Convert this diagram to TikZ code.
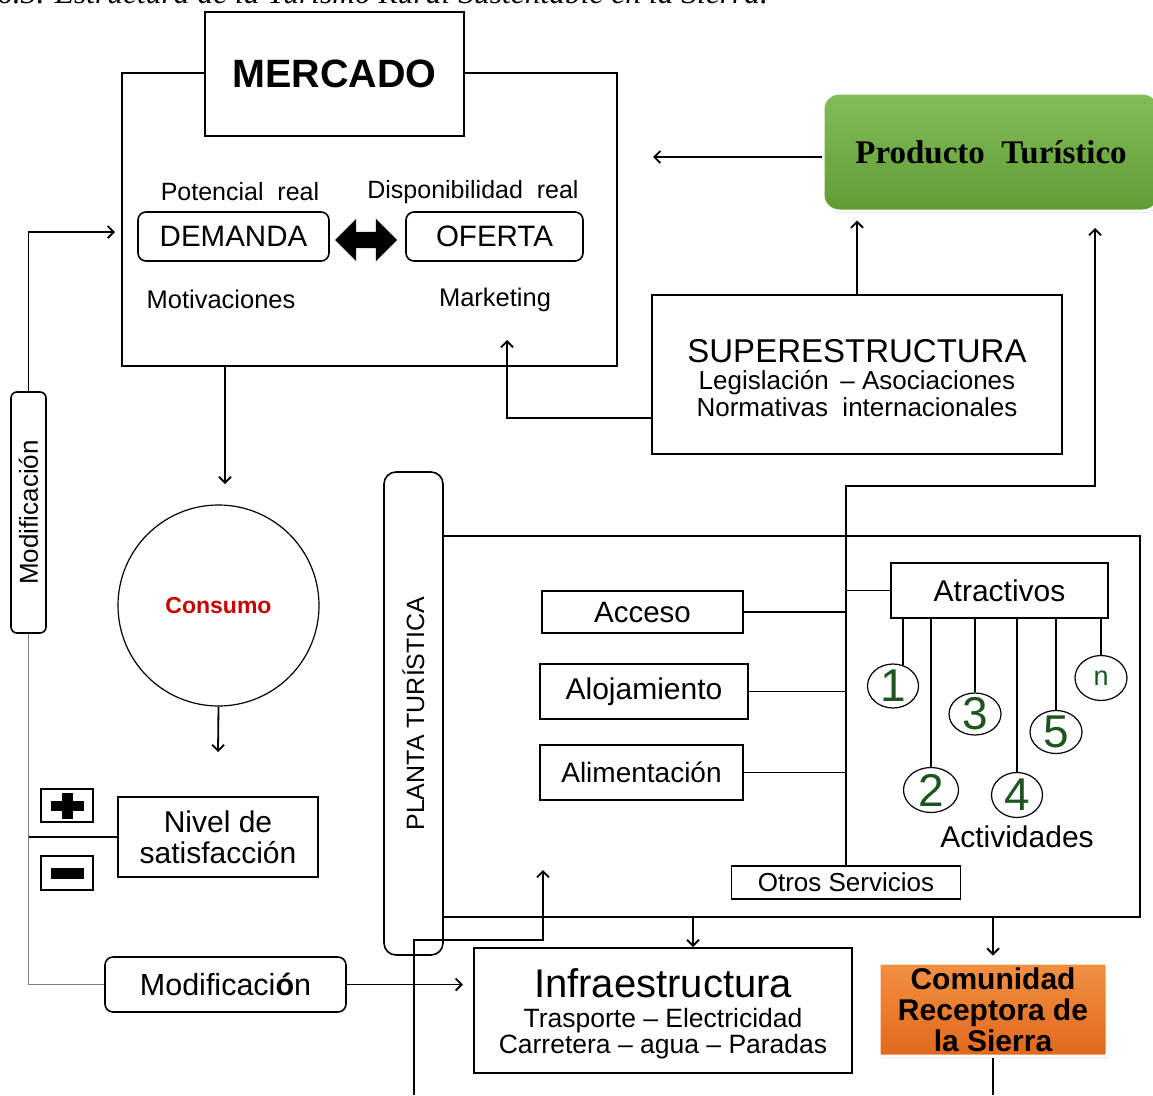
\documentclass[tikz,border=0pt]{standalone}
\usepackage{fontspec}
\setmainfont{Liberation Sans}
\newfontfamily\prodfont{Liberation Serif}
\usepackage{tikz}
\usetikzlibrary{shapes, shapes.arrows, shadows, arrows.meta}
\definecolor{dgreen}{RGB}{30, 85, 30}
\definecolor{consred}{RGB}{200, 0, 0}
\definecolor{greentop}{RGB}{130, 189, 90}
\definecolor{greenbot}{RGB}{96, 156, 52}
\definecolor{orangetop}{RGB}{242, 144, 66}
\definecolor{orangebot}{RGB}{224, 104, 28}
\newcommand*{\fsz}[2]{\fontsize{#1}{#2}\selectfont}
\newcommand*{\lw}{1.8pt}

\begin{document}
\begin{tikzpicture}[
   x=1pt, y=-1pt,
   box/.style={rectangle, draw, line width=1.6pt, inner sep=0, align=center},
   rbox/.style={box, rounded corners=8pt},
   fancy/.style={rectangle, draw=white, line width=3pt, inner sep=0, align=center,
                 drop shadow={opacity=0.35, shadow xshift=1pt, shadow yshift=-2pt}},
   numcirc/.style 2 args={ellipse, draw, line width=1.2pt, inner sep=0,
                 minimum width=51, minimum height=44,
                 label={[text=dgreen, font=\fsz{#2}{#2}]center:#1}},
   plusbox/.style={box, minimum width=52, minimum height=33, path picture={
      \fill ([xshift=-16.5pt, yshift=-5pt]path picture bounding box.center)
        rectangle ([xshift=16.5pt, yshift=5pt]path picture bounding box.center);
      \fill ([xshift=-5.5pt, yshift=-13pt]path picture bounding box.center)
        rectangle ([xshift=5.5pt, yshift=13pt]path picture bounding box.center);}},
   minusbox/.style={box, minimum width=52, minimum height=34, path picture={
      \fill ([xshift=-16.5pt, yshift=-5.5pt]path picture bounding box.center)
        rectangle ([xshift=16.5pt, yshift=5.5pt]path picture bounding box.center);}},
   link/.style={line width=\lw},
   arr/.style={->, >={Straight Barb[length=6pt, width=12pt]}, line width=\lw}
  ]

  \useasboundingbox (0,0) rectangle (1153,1095);

  % caption, cut by the page edge
  \node[anchor=base west, inner sep=0, font={\prodfont\itshape\fsz{31.5}{31.5}}] (capt) at (-3,3.5)
    {6.3. Estructura de la Turismo Rural Sustentable en la Sierra.};

  % Mercado
  \node (mkt) at (369.5, 219.5) [box, minimum width=495, minimum height=293] {};
  \node (merc) at (334.5, 74) [box, fill=white, minimum width=259, minimum height=124,
                               font=\bfseries\fsz{39.5}{39.5}] {MERCADO};
  \node (pot) at (240, 192) [font=\fsz{25}{25}] {Potencial\ \ real};
  \node (disp) at (473, 192) [font=\fsz{25}{25}] {Disponibilidad\ \ real};
  \node (dem) at (233.5, 236.5) [rbox, minimum width=191, minimum height=49,
                                 font=\fsz{29.5}{29.5}] {DEMANDA};
  \node (ofe) at (494.5, 236.5) [rbox, minimum width=177, minimum height=49,
                                 font=\fsz{29.5}{29.5}] {OFERTA};
  \node (dbl) at (366, 240) [double arrow, fill=black, inner xsep=0, inner ysep=8pt,
                             minimum height=62, minimum width=42,
                             double arrow head extend=13pt] {};
  \node (moti) at (221, 299) [font=\fsz{25.5}{25.5}] {Motivaciones};
  \node (mark) at (495, 300) [font=\fsz{25.5}{25.5}] {Marketing};

  % left loop
  \node (modv) at (28.5, 512.5) [rbox, rounded corners=6pt, rotate=90, minimum width=241,
                                 minimum height=35, font=\fsz{26}{26}] {Modificación};
  \node (cons) at (218.5, 605.5) [circle, draw, line width=1.2pt, minimum size=201, inner sep=0,
                                  font=\bfseries\fsz{23}{23}, text=consred] {Consumo};
  \node (nivel) at (218, 837) [box, minimum width=200, minimum height=80,
                               font=\fsz{30}{31}] {Nivel de\\satisfacción};
  \node (plus) at (67, 805.5) [plusbox] {};
  \node (minus) at (67, 873) [minusbox] {};
  \node (modh) at (225.5, 984.5) [rbox, minimum width=241, minimum height=55,
                                  font=\fsz{30.5}{30.5}] {Modificaci\textbf{ó}n};

  % producto y superestructura
  \node (prod) at (991, 152) [fancy, rounded corners=16pt, top color=greentop, bottom color=greenbot,
                              minimum width=336, minimum height=118,
                              font=\prodfont\bfseries\fsz{33}{33}] {Producto\ \ Turístico};
  \node (sup) at (857, 374.5) [box, minimum width=410, minimum height=159, font=\fsz{26}{27}]
    {{\fsz{33}{27}\rule{0pt}{30pt}SUPERESTRUCTURA}\\Legislación \,– Asociaciones\\Normativas\ \ internacionales};

  % planta turistica
  \node (pfr) at (791.5, 726.5) [box, minimum width=697, minimum height=381] {};
  \node (plt) at (413.5, 713.5) [rbox, rounded corners=12pt, rotate=90, minimum width=483,
                                 minimum height=59, font=\fsz{25}{25}] {PLANTA TURÍSTICA};
  \node (acc) at (642.5, 612) [box, minimum width=201, minimum height=42,
                               font=\fsz{29.5}{29.5}] {Acceso};
  \node (alo) at (644, 691.5) [box, minimum width=208, minimum height=55,
                               font=\fsz{30}{30}] {Alojamiento};
  \node (ali) at (641.5, 772.5) [box, minimum width=203, minimum height=55,
                                 font=\fsz{28}{28}] {Alimentación};
  \node (otros) at (846, 882.5) [box, minimum width=229, minimum height=33,
                                 font=\fsz{26}{26}] {Otros Servicios};
  \node (atr) at (999.5, 590.5) [box, minimum width=217, minimum height=55,
                                 font=\fsz{30}{30}] {Atractivos};
  \node (c1) at (893, 686) [numcirc={1}{46}] {};
  \node (c2) at (931, 790) [numcirc={2}{46}, minimum width=55, minimum height=45] {};
  \node (c3) at (975, 714) [numcirc={3}{46}, minimum width=52, minimum height=42] {};
  \node (c4) at (1017, 795) [numcirc={4}{46}, minimum height=45] {};
  \node (c5) at (1056, 732) [numcirc={5}{46}, minimum width=52, minimum height=43] {};
  \node (cn) at (1101, 678) [numcirc={n}{27}, minimum width=52, minimum height=45] {};
  \node (act) at (1017, 837) [font=\fsz{30}{30}] {Actividades};

  % infraestructura y comunidad
  \node (infra) at (663, 1010.5) [box, minimum width=378, minimum height=125, font=\fsz{26.5}{26}]
    {{\fsz{40}{26}\rule{0pt}{36pt}Infraestructura}\\[4pt]Trasporte -- Electricidad\\Carretera -- agua -- Paradas};
  \node (com) at (993, 1009.5) [fancy, rounded corners=2pt, top color=orangetop, bottom color=orangebot,
                                minimum width=228, minimum height=93,
                                font=\bfseries\fsz{30}{31}] {Comunidad\\Receptora de\\la Sierra};

  % free ends and bends
  \coordinate (mktin) at (115, 232);
  \coordinate (consin) at (225, 484);
  \coordinate (nivin) at (218, 752);
  \coordinate (infin) at (463, 987);
  \coordinate (mktr) at (653, 157);
  \coordinate (mkb) at (507, 340);
  \coordinate (jn) at (846, 486);
  \coordinate (prodin) at (1095, 228);
  \coordinate (infn) at (693, 947);
  \coordinate (combase) at (993, 1095);
  \coordinate (plbase) at (414, 1095);
  \coordinate (elb) at (414, 940);
  \coordinate (pltin) at (543, 870);

  \draw[arr] (modv.east) |- (mktin);
  \draw[gray, line width=1pt] (modv.west) |- (modh.west);
  \draw[link] (nivel.west) -- (nivel.west -| modv.west);
  \draw[arr] (modh.east) -- (modh.east -| infin);
  \draw[arr] (mkt.south -| consin) -- (consin);
  \draw[arr] (cons.south) -- (nivin);
  \draw[arr] (prod.west |- mktr) -- (mktr);
  \draw[arr, shorten >=8pt] (sup.north) -- (sup.north |- prod.south);
  \draw[arr] (sup.west |- 0,418) -| (mkb);
  \draw[arr] (otros.north) -- (jn) -| (prodin);
  \foreach \n in {acc, alo, ali} {
    \draw[link] (\n.east) -- (\n.east -| jn);
  }
  \draw[link] (atr.west) -- (atr.west -| jn);
  \foreach \c/\a in {c1/64, c2/90, c3/90, c4/90, c5/90, cn/90} {
    \draw[link] (\c.\a |- atr.south) -- (\c.\a);
  }
  \draw[arr] (infn |- pfr.south) -- (infn);
  \draw[arr, shorten >=6pt] (com.north |- pfr.south) -- (com.north);
  \draw[link] (com.south) -- (combase);
  \draw[arr] (plbase) -- (elb) -| (pltin);

\end{tikzpicture}
\end{document}
